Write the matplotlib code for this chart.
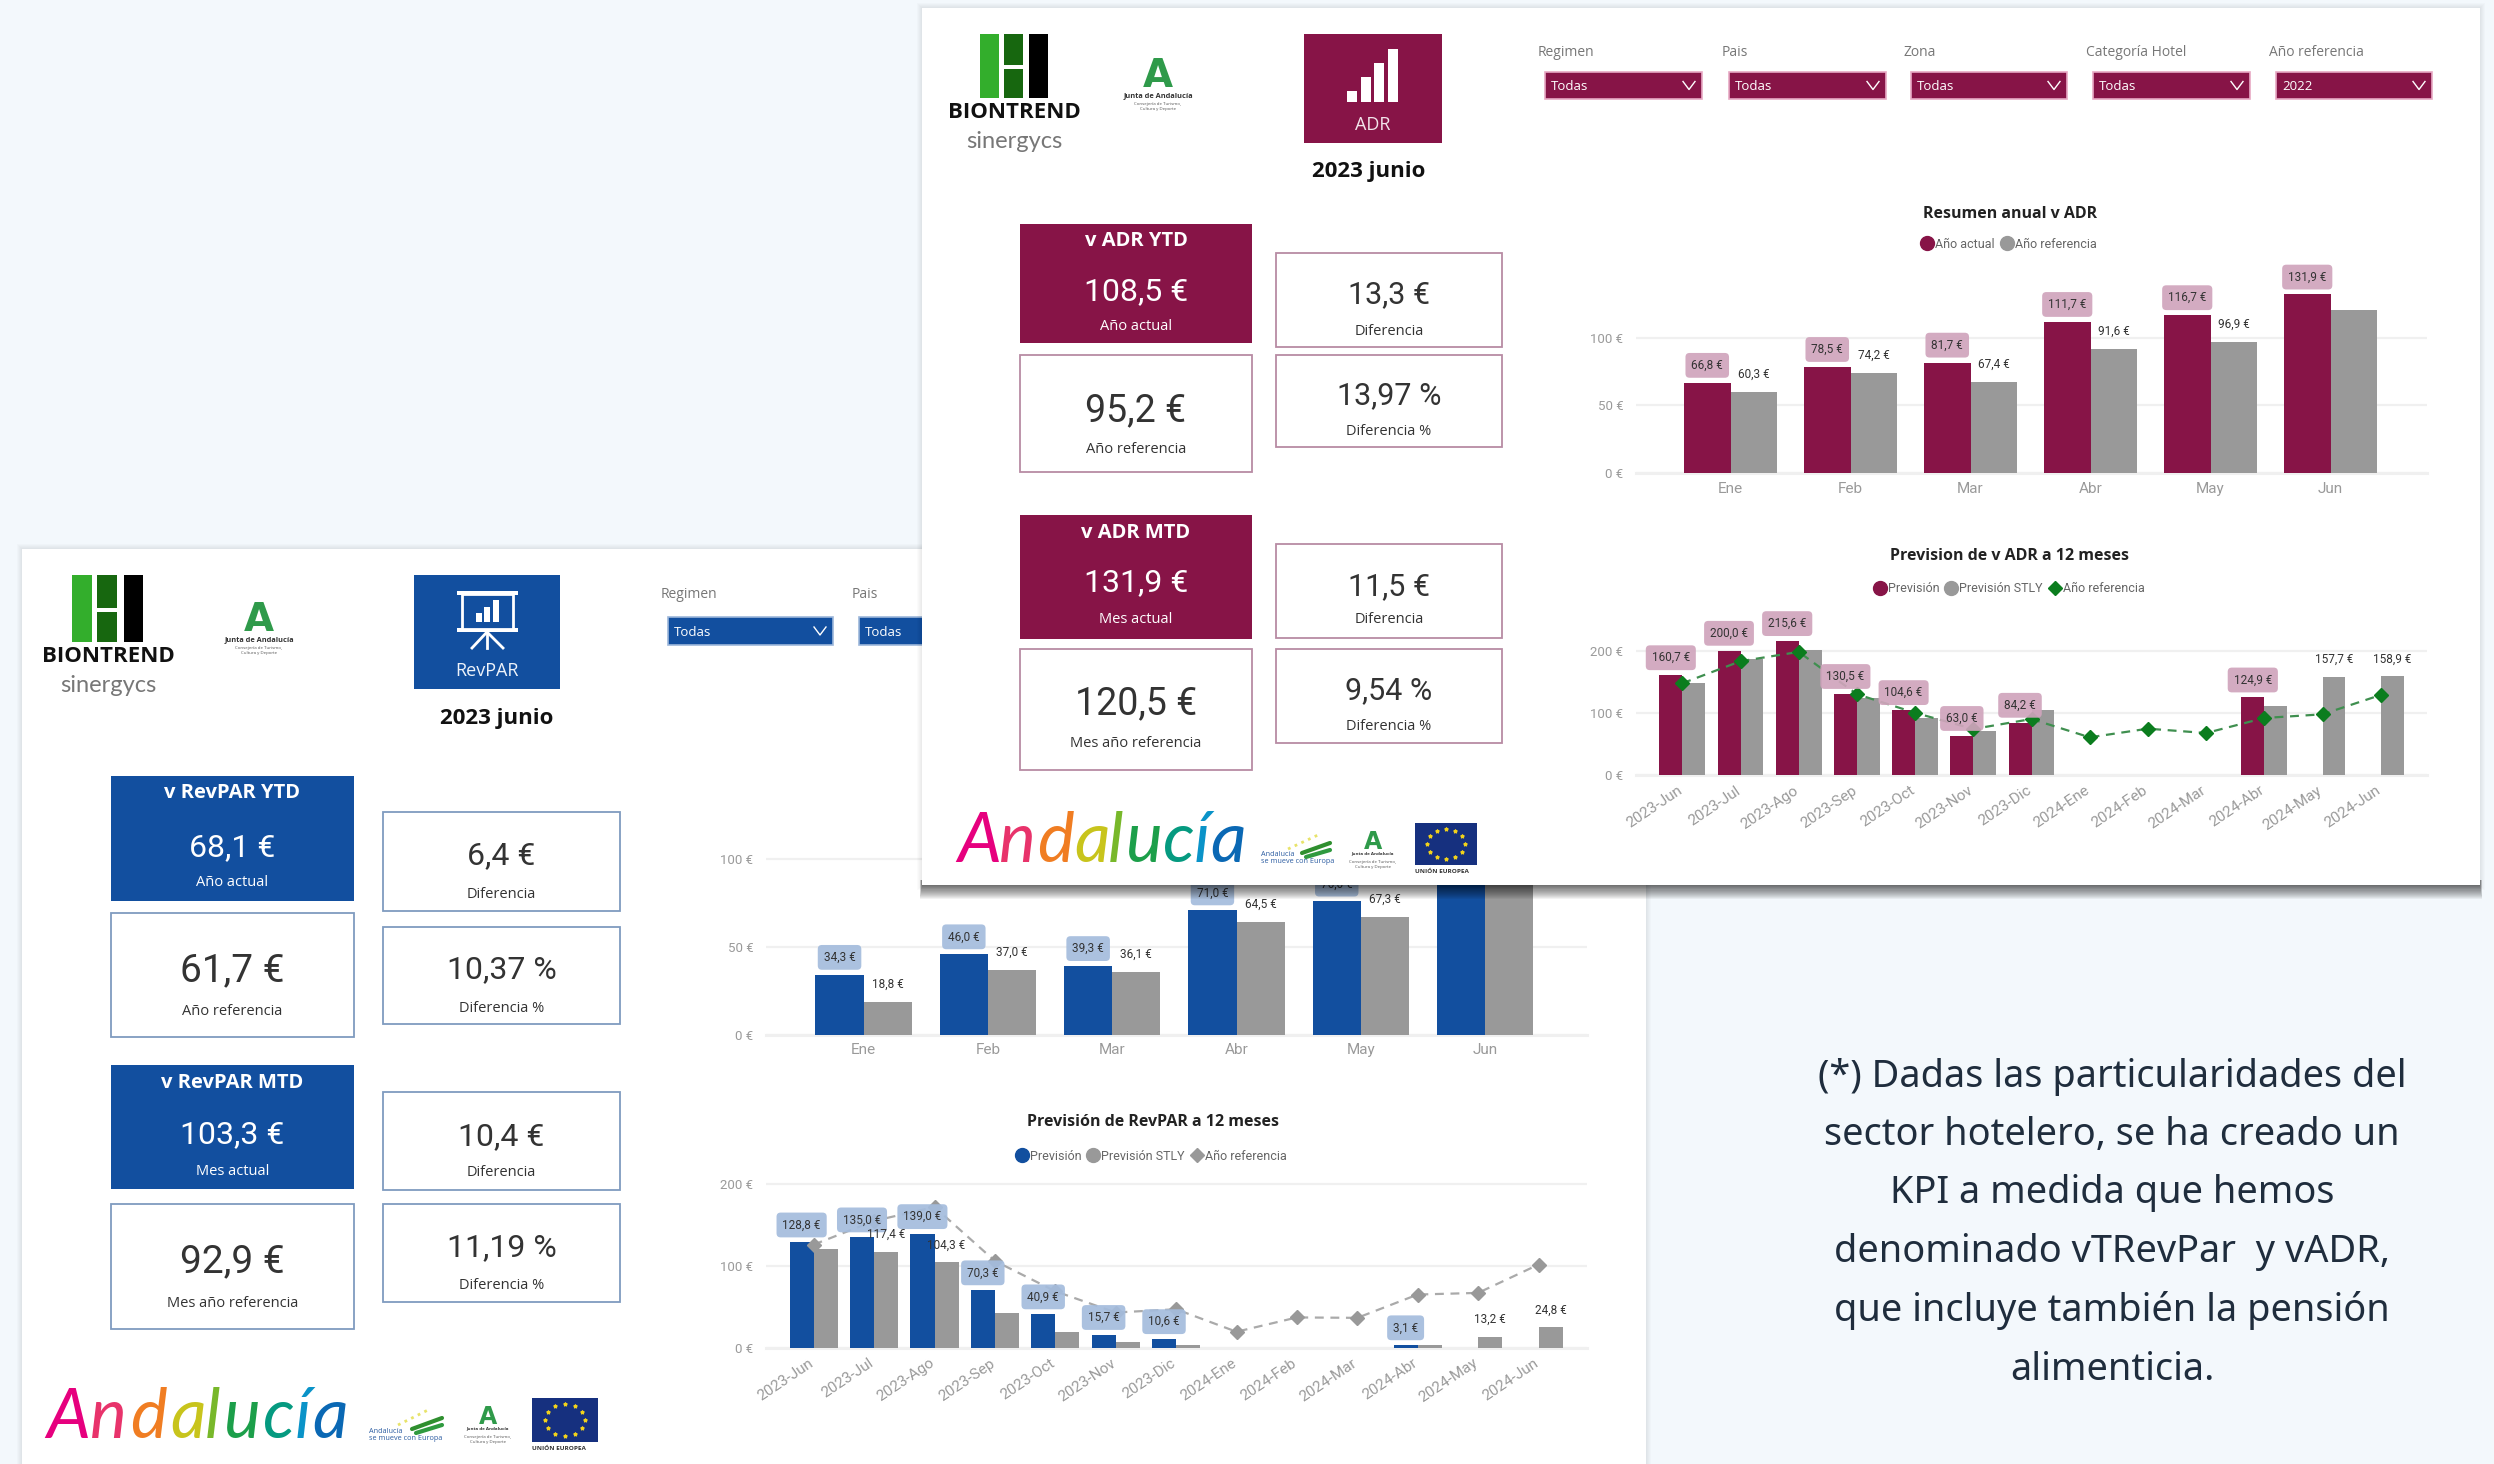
import numpy as np
import matplotlib
matplotlib.use("Agg")
import matplotlib.pyplot as plt
from matplotlib.lines import Line2D
from matplotlib.patches import Rectangle
from matplotlib.transforms import ScaledTranslation

W, H = 2494, 1464

MONTHS = ["Ene", "Feb", "Mar", "Abr", "May", "Jun"]
MONTHS_12 = ["2023-Jun", "2023-Jul", "2023-Ago", "2023-Sep", "2023-Oct", "2023-Nov", "2023-Dic",
             "2024-Ene", "2024-Feb", "2024-Mar", "2024-Abr", "2024-May", "2024-Jun"]

adr_actual = [66.8, 78.5, 81.7, 111.7, 116.7, 131.9]
adr_ref = [60.3, 74.2, 67.4, 91.6, 96.9, 120.5]
adr_fc = [160.7, 200.0, 215.6, 130.5, 104.6, 63.0, 84.2, None, None, None, 124.9, None, None]
adr_stly = [148, 186, 200.5, 124.4, 92, 71, 104, None, None, None, 111, 157.7, 158.9]
adr_fc_ref = [147.5, 183, 198, 130, 100, 74, 90, 60.6, 74.5, 67.5, 91.7, 97.6, 128.7]

rev_actual = [34.3, 46.0, 39.3, 71.0, 76.0, 103.3]
rev_ref = [18.8, 37.0, 36.1, 64.5, 67.3, 92.9]
rev_fc = [128.8, 135.0, 139.0, 70.3, 40.9, 15.7, 10.6, None, None, None, 3.1, None, None]
rev_stly = [121, 117.4, 104.3, 42, 19, 6.5, 3.5, None, None, None, 3, 13.2, 24.8]
rev_fc_ref = [126, 155, 172, 106, 69, 43, 47, 19.5, 37, 36.5, 65, 67, 101.6]

FILTERS = ["Regimen", "Pais", "Zona", "Categoría Hotel", "Año referencia"]
FILTER_VALUES = ["Todas", "Todas", "Todas", "Todas", "2022"]

NOTE = ["(*) Dadas las particularidades del", "sector hotelero, se ha creado un",
        "KPI a medida que hemos", "denominado vTRevPar  y vADR,",
        "que incluye también la pensión", "alimenticia."]

BG = "#f3f8fc"
MAROON = "#871447"
MAROON_PILL = "#d0a4bc"
MAROON_EDGE = "#b88ba4"
BLUE = "#124f9f"
BLUE_PILL = "#a4bcdd"
BLUE_EDGE = "#7f9bbf"
GRAY = "#999999"
SANS = "Open Sans"
NUM = "Roboto"


def px_axes(fig, x0, top, x1, bottom, zorder):
    ax = fig.add_axes([x0 / W, 1 - bottom / H, (x1 - x0) / W, (bottom - top) / H], zorder=zorder)
    ax.patch.set_alpha(0)
    return ax


def euro(v):
    return f"{v:.1f} €".replace(".", ",")


def shadow(ax, x0, y0, x1, y1, zorder, n=14, alpha=0.05):
    # soft glow all round, then the heavier drop below the panel
    for g in range(1, 6):
        ax.add_patch(Rectangle((x0 - g, y0 - g), x1 - x0 + 2 * g, y1 - y0 + 2 * g,
                               fc="black", ec="none", alpha=0.016, zorder=zorder))
    for i in range(n):
        g = i * 1.1
        ax.add_patch(Rectangle((x0 - g * 0.15, y1 - 5), x1 - x0 + g * 0.3, 5 + g,
                               fc="black", ec="none", alpha=alpha, zorder=zorder))


def card(ax, box, color, filled, value, label, size, vy, ly, title=None, ty=None, z=5):
    x0, y0, x1, y1 = box
    if filled:
        ax.add_patch(Rectangle((x0, y0), x1 - x0, y1 - y0, fc=color, ec="none", zorder=z))
    else:
        ax.add_patch(Rectangle((x0, y0), x1 - x0, y1 - y0, fc="white", ec=color, lw=1.3, zorder=z))
    cx = (x0 + x1) / 2
    tc = "white" if filled else "#333333"
    if title:
        ax.text(cx, ty + 2.5, title, ha="center", va="center", fontsize=14.5, fontweight="bold",
                family=SANS, color="white", zorder=z + 1)
    ax.text(cx, vy + 2.5, value, ha="center", va="center", fontsize=size, family=NUM, color=tc, zorder=z + 1)
    ax.text(cx, ly + 2.5, label, ha="center", va="center", fontsize=10.5, family=SANS, color=tc, zorder=z + 1)


def biontrend(ax, x0, y0, bw, h, z=5):
    # x0, y0 top left of the green and black stripes
    ax.add_patch(Rectangle((x0, y0), bw, h, fc="#33ae2c", ec="none", zorder=z))
    ax.add_patch(Rectangle((x0 + bw * 1.3, y0), bw, h * 0.49, fc="#17670f", ec="none", zorder=z))
    ax.add_patch(Rectangle((x0 + bw * 1.3, y0 + h * 0.55), bw, h * 0.45, fc="#17670f", ec="none", zorder=z))
    ax.add_patch(Rectangle((x0 + bw * 2.65, y0), bw, h, fc="black", ec="none", zorder=z))
    cx = x0 + bw * 1.85
    ax.text(cx, y0 + h + 14, "BIONTREND", ha="center", va="center", fontsize=16, fontweight="bold",
            family=SANS, color="#111111", zorder=z)
    ax.text(cx, y0 + h + 44, "sinergycs", ha="center", va="center", fontsize=17, family="Lato",
            color="#777777", zorder=z)


def junta(ax, cx, y0, size, sub=True, z=5):
    ax.text(cx, y0, "A", ha="center", va="top", fontsize=size, fontweight="bold", family="DejaVu Sans",
            color="#2f9a4a", zorder=z)
    ty = y0 + size * 1.38
    ax.text(cx, ty, "Junta de Andalucía", ha="center", va="center",
            fontsize=size * 0.19, fontweight="bold", family=SANS, color="#333333", zorder=z)
    if sub:
        ax.text(cx, ty + 11, "Consejería de Turismo,\nCultura y Deporte", ha="center", va="center",
                fontsize=3.2, family=SANS, color="#555555", linespacing=1.1, zorder=z)


def andalucia(ax, x0, x1, base, z=5):
    letters = ["A", "n", "d", "a", "l", "u", "c", "í", "a"]
    colors = ["#e6007e", "#e8336b", "#f07d22", "#c8c41c", "#78b82a", "#1c9f4a", "#059a80", "#0a93c8", "#0a68b4"]
    rel = [0.0, 0.146, 0.278, 0.41, 0.527, 0.585, 0.717, 0.824, 0.883]
    for ch, col, r in zip(letters, colors, rel):
        ax.text(x0 + r * (x1 - x0), base, ch, ha="left", va="baseline", fontsize=50, style="italic",
                family="Lato", color=col, zorder=z)


def eu_flag(ax, x0, y0, x1, y1, z=5):
    ax.add_patch(Rectangle((x0, y0), x1 - x0, y1 - y0, fc="#16307f", ec="none", zorder=z))
    ang = np.linspace(0, 2 * np.pi, 12, endpoint=False)
    ax.scatter((x0 + x1) / 2 + 0.3 * (x1 - x0) * np.cos(ang), (y0 + y1) / 2 + 0.36 * (y1 - y0) * np.sin(ang),
               s=6, marker="*", color="#f2d21b", zorder=z + 1)
    ax.text(x0, y1 + 6, "UNIÓN EUROPEA", ha="left", va="center", fontsize=4.6, fontweight="bold",
            family=SANS, color="#333333", zorder=z)


def se_mueve(ax, x0, y0, x1, y1, tx, ty, z=5):
    ax.plot([x0, x1], [y1 - 4, y0 + 8], color="#2f8f2f", lw=3, solid_capstyle="round", zorder=z)
    ax.plot([x0 + 4, x1], [y1, y0 + 15], color="#2f9a3f", lw=3, solid_capstyle="round", zorder=z)
    ax.plot([x0 - 14, x0 + 16], [y1 - 8, y0], color="#e8e36a", lw=2, ls=":", zorder=z)
    ax.text(tx, ty, "Andalucía\nse mueve con Europa", ha="left", va="center", fontsize=5.2,
            family=SANS, color="#2a5ba0", linespacing=1.05, zorder=z)


def dropdown(ax, label, value, x0, x1, y0, y1, lx, ly, color, edge, z=5, chevron=True):
    ax.text(lx, ly + 1, label, ha="left", va="center", fontsize=10, family=SANS, color="#777777", zorder=z)
    ax.add_patch(Rectangle((x0, y0), x1 - x0, y1 - y0, fc=color, ec=edge, lw=1.2, zorder=z))
    ax.text(x0 + 6, (y0 + y1) / 2 + 1, value, ha="left", va="center", fontsize=9.5, family=SANS,
            color="white", zorder=z + 1)
    if chevron:
        cx, cy = x1 - 13, (y0 + y1) / 2
        ax.plot([cx - 6, cx, cx + 6], [cy - 4, cy + 4, cy - 4], color="white", lw=1, zorder=z + 1)


def style_axis(ax, yticks, rotate=False):
    for s in ax.spines.values():
        s.set_visible(False)
    ax.set_yticks(yticks)
    ax.set_yticklabels([f"{t} €" for t in yticks], fontsize=9.5, family=NUM, color="#9a9a9a")
    ax.tick_params(axis="both", length=0)
    ax.tick_params(axis="y", pad=9)
    ax.tick_params(axis="x", pad=6)
    ax.grid(axis="y", color="#f0f0f0", lw=1.6)
    ax.axhline(0, color="#f0f0f0", lw=2.2, clip_on=False, zorder=0.5)
    ax.set_axisbelow(True)
    for t in ax.get_xticklabels():
        t.set_family(NUM)
        t.set_color("#9a9a9a")
        t.set_fontsize(11)
        if rotate:
            t.set_rotation(34)
            t.set_ha("right")
            t.set_rotation_mode("anchor")
            t.set_transform(t.get_transform() + ScaledTranslation(-4 / 72, 0, ax.figure.dpi_scale_trans))


def add_labels(ax, xs, vals, pill=None, only=None):
    for i, (x, v) in enumerate(zip(xs, vals)):
        if np.isnan(v) or (only is not None and i not in only):
            continue
        box = None
        if pill:
            box = dict(boxstyle="round,pad=0.5,rounding_size=0.35", fc=pill, ec="none", alpha=0.92)
        ax.annotate(euro(v), (x, v), xytext=(0, 12.5), textcoords="offset points", ha="center", va="center",
                    fontsize=8.5, family=NUM, color="#333333", bbox=box, zorder=4)


def bar_chart(fig, rect, first, step, scale, names, a, b, color, pill, yticks, zorder,
              width=0.39, gray_only=None, line=None, line_color=None, rotate=False):
    x0, top, x1, y0 = rect
    ax = px_axes(fig, x0, top, x1, y0, zorder)
    xs = np.arange(len(names))
    a = np.array(a, dtype=float)
    b = np.array(b, dtype=float)
    ax.bar(xs - width / 2, a, width, color=color, zorder=2)
    ax.bar(xs + width / 2, b, width, color=GRAY, zorder=2)
    if line is not None:
        ax.plot(xs, line, ls=(0, (4, 3)), lw=1.6, color=line_color[1], marker="D", ms=7,
                mfc=line_color[0], mec=line_color[0], zorder=3)
    ax.set_xticks(xs)
    ax.set_xticklabels(names)
    ax.set_xlim((x0 - first) / step, (x1 - first) / step)
    ax.set_ylim(0, (y0 - top) / scale)
    style_axis(ax, yticks, rotate)
    add_labels(ax, xs - width / 2, a, pill)
    add_labels(ax, xs + width / 2, b, only=gray_only)
    return ax


def legend(ax, pix, cx, cy, items):
    handles = []
    for name, col, mk in items:
        handles.append(Line2D([], [], ls="none", marker=mk, ms=10 if mk == "o" else 7.5, mfc=col, mec=col, label=name))
    ax.legend(handles=handles, loc="center", bbox_to_anchor=(cx, cy + 1), bbox_transform=pix.transData,
              ncol=len(items), frameon=False, prop=dict(family=NUM, size=9), labelcolor="#666666",
              handletextpad=0.0, columnspacing=0.3, borderpad=0, handlelength=1.3)


fig = plt.figure(figsize=(W / 100, H / 100), dpi=100, facecolor=BG)

# back panel, RevPAR
back = fig.add_axes([0, 0, 1, 1], zorder=0)
back.set_xlim(0, W)
back.set_ylim(H, 0)
back.axis("off")
shadow(back, 22, 549, 1646, 1480, 1, n=0)
back.add_patch(Rectangle((22, 549), 1624, 930, fc="white", ec="none", zorder=2))

biontrend(back, 72, 575, 19.5, 67)
junta(back, 259, 601, 28)
back.add_patch(Rectangle((414, 575), 146, 114, fc=BLUE, ec="none", zorder=5))
# presentation board icon
back.add_patch(Rectangle((457, 591), 61, 4, fc="white", ec="none", zorder=6))
back.add_patch(Rectangle((457, 628), 61, 4, fc="white", ec="none", zorder=6))
back.add_patch(Rectangle((462, 594), 51, 35, fc=BLUE, ec="white", lw=2, zorder=6))
for bx, bh in zip([476, 484, 493], [9, 15, 22]):
    back.add_patch(Rectangle((bx, 622 - bh), 6, bh, fc="white", ec="none", zorder=7))
for end in [472, 487, 503]:
    back.plot([487, end], [632, 648], color="white", lw=2, zorder=6)
back.text(487, 671, "RevPAR", ha="center", va="center", fontsize=13, family=SANS, color="#eef3fa", zorder=6)
back.text(497, 718.5, "2023 junio", ha="center", va="center", fontsize=16, fontweight="bold", family=SANS,
          color="#111111", zorder=5)

dropdown(back, FILTERS[0], FILTER_VALUES[0], 668, 833, 617, 645, 661, 594, BLUE, "#9db7da")
dropdown(back, FILTERS[1], FILTER_VALUES[1], 859, 1030, 617, 645, 852, 594, BLUE, "#9db7da")

card(back, (111, 776, 354, 901), BLUE, True, "68,1 €", "Año actual", 23, 845, 880, "v RevPAR YTD", 791)
card(back, (111, 913, 354, 1037), BLUE_EDGE, False, "61,7 €", "Año referencia", 28, 968, 1009)
card(back, (383, 812, 620, 911), BLUE_EDGE, False, "6,4 €", "Diferencia", 23, 853, 892)
card(back, (383, 927, 620, 1024), BLUE_EDGE, False, "10,37 %", "Diferencia %", 23, 967, 1006)
card(back, (111, 1065, 354, 1189), BLUE, True, "103,3 €", "Mes actual", 23, 1132, 1169, "v RevPAR MTD", 1081)
card(back, (111, 1204, 354, 1329), BLUE_EDGE, False, "92,9 €", "Mes año referencia", 28, 1259, 1301)
card(back, (383, 1092, 620, 1190), BLUE_EDGE, False, "10,4 €", "Diferencia", 23, 1134, 1170)
card(back, (383, 1204, 620, 1302), BLUE_EDGE, False, "11,19 %", "Diferencia %", 23, 1245, 1283)

andalucia(back, 46, 348, 1438)
se_mueve(back, 412, 1410, 442, 1433, 369, 1435)
junta(back, 488, 1405, 17)
eu_flag(back, 532, 1398, 598, 1442)

back.text(1153, 1122.5, "Previsión de RevPAR a 12 meses", ha="center", va="center", fontsize=11.5,
          fontweight="bold", family=SANS, color="#222222", zorder=5)
for i, line in enumerate(NOTE):
    back.text(2112, [1077, 1135, 1193, 1252, 1311, 1370][i], line, ha="center", va="center", fontsize=27.3,
              family="Noto Sans", color="#1f2d3d", zorder=5)

bar_chart(fig, (766, 780, 1587, 1035), 863.6, 124.3, 1.757, MONTHS, rev_actual, rev_ref, BLUE, BLUE_PILL,
          [0, 50, 100], 1, width=0.387)
rev2 = bar_chart(fig, (766, 1170, 1587, 1347.7), 813.7, 60.4, 0.818, MONTHS_12, rev_fc, rev_stly, BLUE, BLUE_PILL,
                 [0, 100, 200], 1, width=0.4, gray_only=[1, 2, 11, 12],
                 line=rev_fc_ref, line_color=("#999999", "#aaaaaa"), rotate=True)
legend(rev2, back, 1150, 1155, [("Previsión", BLUE, "o"), ("Previsión STLY", GRAY, "o"), ("Año referencia", GRAY, "D")])

# front panel, ADR
front = fig.add_axes([0, 0, 1, 1], zorder=2)
front.set_xlim(0, W)
front.set_ylim(H, 0)
front.axis("off")
front.patch.set_alpha(0)
shadow(front, 922, 8, 2480, 885, 1)
front.add_patch(Rectangle((922, 8), 1558, 877, fc="white", ec="none", zorder=2))

biontrend(front, 980, 34, 18.5, 64)
junta(front, 1158, 57, 28)
front.add_patch(Rectangle((1304, 34), 138, 109, fc=MAROON, ec="none", zorder=5))
for bx, bt in zip([1347, 1361, 1374, 1388], [91, 77, 63, 49]):
    front.add_patch(Rectangle((bx, bt), 10, 102 - bt, fc="white", ec="none", zorder=6))
front.text(1373, 125, "ADR", ha="center", va="center", fontsize=13, family=SANS, color="#f3e4eb", zorder=6)
front.text(1369, 171.5, "2023 junio", ha="center", va="center", fontsize=16, fontweight="bold", family=SANS,
           color="#111111", zorder=5)

drop_x = [(1545, 1702), (1729, 1886), (1911, 2067), (2093, 2250), (2276, 2432)]
drop_lx = [1538, 1722, 1904, 2086, 2269]
for name, val, (d0, d1), lx in zip(FILTERS, FILTER_VALUES, drop_x, drop_lx):
    dropdown(front, name, val, d0, d1, 72, 99, lx, 51, MAROON, "#e7a9c4")

card(front, (1020, 224, 1252, 343), MAROON, True, "108,5 €", "Año actual", 23, 289, 324, "v ADR YTD", 239)
card(front, (1020, 355, 1252, 472), MAROON_EDGE, False, "95,2 €", "Año referencia", 27, 408, 447)
card(front, (1276, 253, 1502, 347), MAROON_EDGE, False, "13,3 €", "Diferencia", 22, 292, 329)
card(front, (1276, 355, 1502, 447), MAROON_EDGE, False, "13,97 %", "Diferencia %", 22, 393, 429)
card(front, (1020, 515, 1252, 639), MAROON, True, "131,9 €", "Mes actual", 23, 580, 617, "v ADR MTD", 531)
card(front, (1020, 649, 1252, 770), MAROON_EDGE, False, "120,5 €", "Mes año referencia", 27, 701, 741)
card(front, (1276, 544, 1502, 638), MAROON_EDGE, False, "11,5 €", "Diferencia", 22, 584, 617)
card(front, (1276, 649, 1502, 743), MAROON_EDGE, False, "9,54 %", "Diferencia %", 22, 688, 724)

andalucia(front, 957, 1244, 862)
se_mueve(front, 1302, 835, 1330, 857, 1261, 858)
junta(front, 1373, 830, 17)
eu_flag(front, 1415, 823, 1477, 865)

front.text(2010, 213.5, "Resumen anual v ADR", ha="center", va="center", fontsize=11.5, fontweight="bold",
           family=SANS, color="#222222", zorder=5)
front.text(2010, 556.5, "Prevision de v ADR a 12 meses", ha="center", va="center", fontsize=11.5, fontweight="bold",
           family=SANS, color="#222222", zorder=5)

adr1 = bar_chart(fig, (1636, 255, 2427, 473.3), 1730.5, 120, 1.356, MONTHS, adr_actual, adr_ref, MAROON, MAROON_PILL,
                 [0, 50, 100], 3, width=0.3875, gray_only=[0, 1, 2, 3, 4])
legend(adr1, front, 2008, 243, [("Año actual", MAROON, "o"), ("Año referencia", GRAY, "o")])
adr2 = bar_chart(fig, (1636, 600, 2427, 775), 1682.3, 58.2, 0.6217, MONTHS_12, adr_fc, adr_stly, MAROON, MAROON_PILL,
                 [0, 100, 200], 3, width=0.395, gray_only=[11, 12],
                 line=adr_fc_ref, line_color=("#0b7d1e", "#3f8f4f"), rotate=True)
legend(adr2, front, 2008, 588, [("Previsión", MAROON, "o"), ("Previsión STLY", GRAY, "o"), ("Año referencia", "#0b7d1e", "D")])

fig.savefig("out.png", dpi=100, facecolor=BG)
